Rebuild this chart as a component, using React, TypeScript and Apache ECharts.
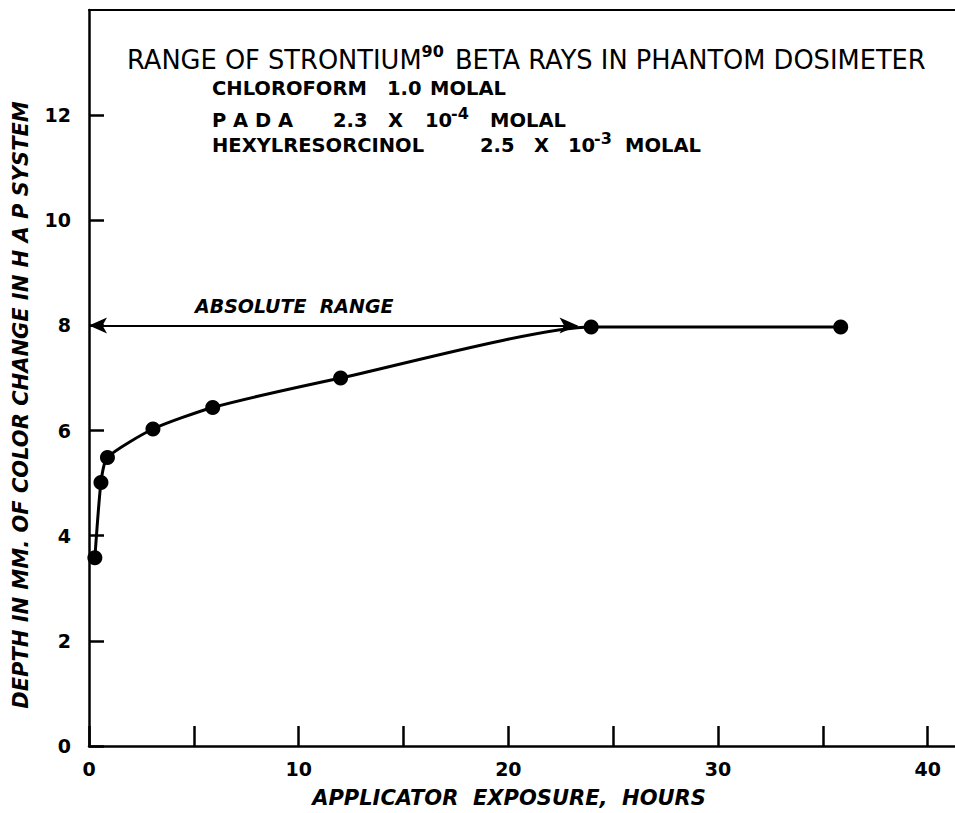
import React, { useEffect, useRef } from "react";
import * as echarts from "echarts";

const exposureHours = [0.28, 0.57, 0.88, 3.05, 5.9, 12.0, 23.95, 35.85];
const depthMm = [3.58, 5.01, 5.49, 6.03, 6.44, 7.0, 7.97, 7.97];
const xTicks = [0, 5, 10, 15, 20, 25, 30, 35, 40];
const xLabels = [0, 10, 20, 30, 40];
const yTicks = [0, 2, 4, 6, 8, 10, 12];
const yLabels = [0, 2, 4, 6, 8, 10, 12];
const absoluteRange = { depth: 8, from: 0, to: 23.3 };

export default function App() {
  const ref = useRef<HTMLDivElement>(null);
  useEffect(() => {
    if (!ref.current) return;
    const chart = echarts.init(ref.current, null, { renderer: "svg" });
    const font = "'DejaVu Sans', 'Liberation Sans', sans-serif";
    const black = "#000";
    const subSize = 19.5;
    const seg = (x: number, yMid: number, text: string) => ({
      type: "text",
      x,
      y: yMid,
      style: {
        text,
        fontFamily: font,
        fontWeight: "bold",
        fontSize: subSize,
        fill: black,
        verticalAlign: "middle",
      },
    });
    const supText = (x: number, yMid: number, text: string) => ({
      type: "text",
      x,
      y: yMid - 7,
      style: {
        text,
        fontFamily: font,
        fontWeight: "bold",
        fontSize: 16,
        fill: black,
        verticalAlign: "middle",
      },
    });
    const y2 = 88.5;
    const y3 = 120;
    const y4 = 145;
    chart.setOption({
      animation: false,
      backgroundColor: "#fff",
      grid: { left: 89, right: 0, top: 10, bottom: 67, containLabel: false },
      xAxis: [
        {
          type: "value",
          min: 0,
          max: 41.3,
          axisLine: { show: true, lineStyle: { color: black, width: 2.5 } },
          axisTick: {
            show: true,
            inside: true,
            length: 20,
            customValues: xTicks,
            lineStyle: { color: black, width: 2.5 },
          },
          axisLabel: {
            customValues: xLabels,
            color: black,
            fontFamily: font,
            fontWeight: "bold",
            fontSize: 19,
            margin: 13,
          },
          splitLine: { show: false },
        },
        {
          type: "value",
          position: "top",
          min: 0,
          max: 41.3,
          axisLine: { show: true, lineStyle: { color: black, width: 2 } },
          axisTick: { show: false },
          axisLabel: { show: false },
          splitLine: { show: false },
        },
      ],
      yAxis: {
        type: "value",
        min: 0,
        max: 14,
        axisLine: { show: true, lineStyle: { color: black, width: 2.5 } },
        axisTick: {
          show: true,
          inside: true,
          length: 15,
          customValues: yTicks,
          lineStyle: { color: black, width: 2.5 },
        },
        axisLabel: {
          customValues: yLabels,
          color: black,
          fontFamily: font,
          fontWeight: "bold",
          fontSize: 19,
          margin: 18,
        },
        splitLine: { show: false },
      },
      series: [
        {
          type: "line",
          data: exposureHours.map((x, i) => [x, depthMm[i]]),
          smooth: 0.2,
          symbol: "circle",
          symbolSize: 15,
          lineStyle: { color: black, width: 3 },
          itemStyle: { color: black },
          markLine: {
            silent: true,
            symbol: ["arrow", "arrow"],
            symbolSize: [12, 18],
            label: { show: false },
            lineStyle: { color: black, width: 2, type: "solid" },
            data: [
              [
                { coord: [absoluteRange.from, absoluteRange.depth] },
                { coord: [absoluteRange.to, absoluteRange.depth] },
              ],
            ],
          },
        },
      ],
      graphic: [
        {
          type: "text",
          left: 127,
          top: 43,
          style: {
            text: "{a|RANGE OF STRONTIUM}{s|90}{a| BETA RAYS IN PHANTOM DOSIMETER}",
            rich: {
              a: { fontFamily: font, fontSize: 25.7, fill: black, verticalAlign: "bottom", lineHeight: 30 },
              s: { fontFamily: font, fontSize: 16, fontWeight: "bold", fill: black, verticalAlign: "top", lineHeight: 30, padding: [0, 3, 13, 0] },
            },
          },
        },
        seg(212, y2, "CHLOROFORM"),
        seg(387, y2, "1.0"),
        seg(430, y2, "MOLAL"),
        seg(212, y3, "P A D A"),
        seg(333, y3, "2.3"),
        seg(388, y3, "X"),
        seg(425, y3, "10"),
        supText(451, y3, "-4"),
        seg(490, y3, "MOLAL"),
        seg(212, y4, "HEXYLRESORCINOL"),
        seg(480, y4, "2.5"),
        seg(534, y4, "X"),
        seg(568, y4, "10"),
        supText(594, y4, "-3"),
        seg(625, y4, "MOLAL"),
        {
          type: "text",
          left: 195,
          top: 296,
          style: { text: "ABSOLUTE  RANGE", fontFamily: font, fontWeight: "bold", fontStyle: "italic", fontSize: 19, fill: black },
        },
        {
          type: "text",
          x: 509,
          y: 798,
          style: {
            text: "APPLICATOR  EXPOSURE,  HOURS",
            fontFamily: font,
            fontWeight: "bold",
            fontStyle: "italic",
            fontSize: 21,
            fill: black,
            align: "center",
            verticalAlign: "middle",
          },
        },
        {
          type: "text",
          x: 21,
          y: 405,
          rotation: Math.PI / 2,
          style: {
            text: "DEPTH IN MM. OF COLOR CHANGE IN H A P SYSTEM",
            fontFamily: font,
            fontWeight: "bold",
            fontStyle: "italic",
            fontSize: 21,
            fill: black,
            align: "center",
            verticalAlign: "middle",
          },
        },
      ],
    });
    return () => chart.dispose();
  }, []);
  return (
    <div
      ref={ref}
      style={{ position: "absolute", left: 0, top: 0, width: 955, height: 813 }}
    />
  );
}
